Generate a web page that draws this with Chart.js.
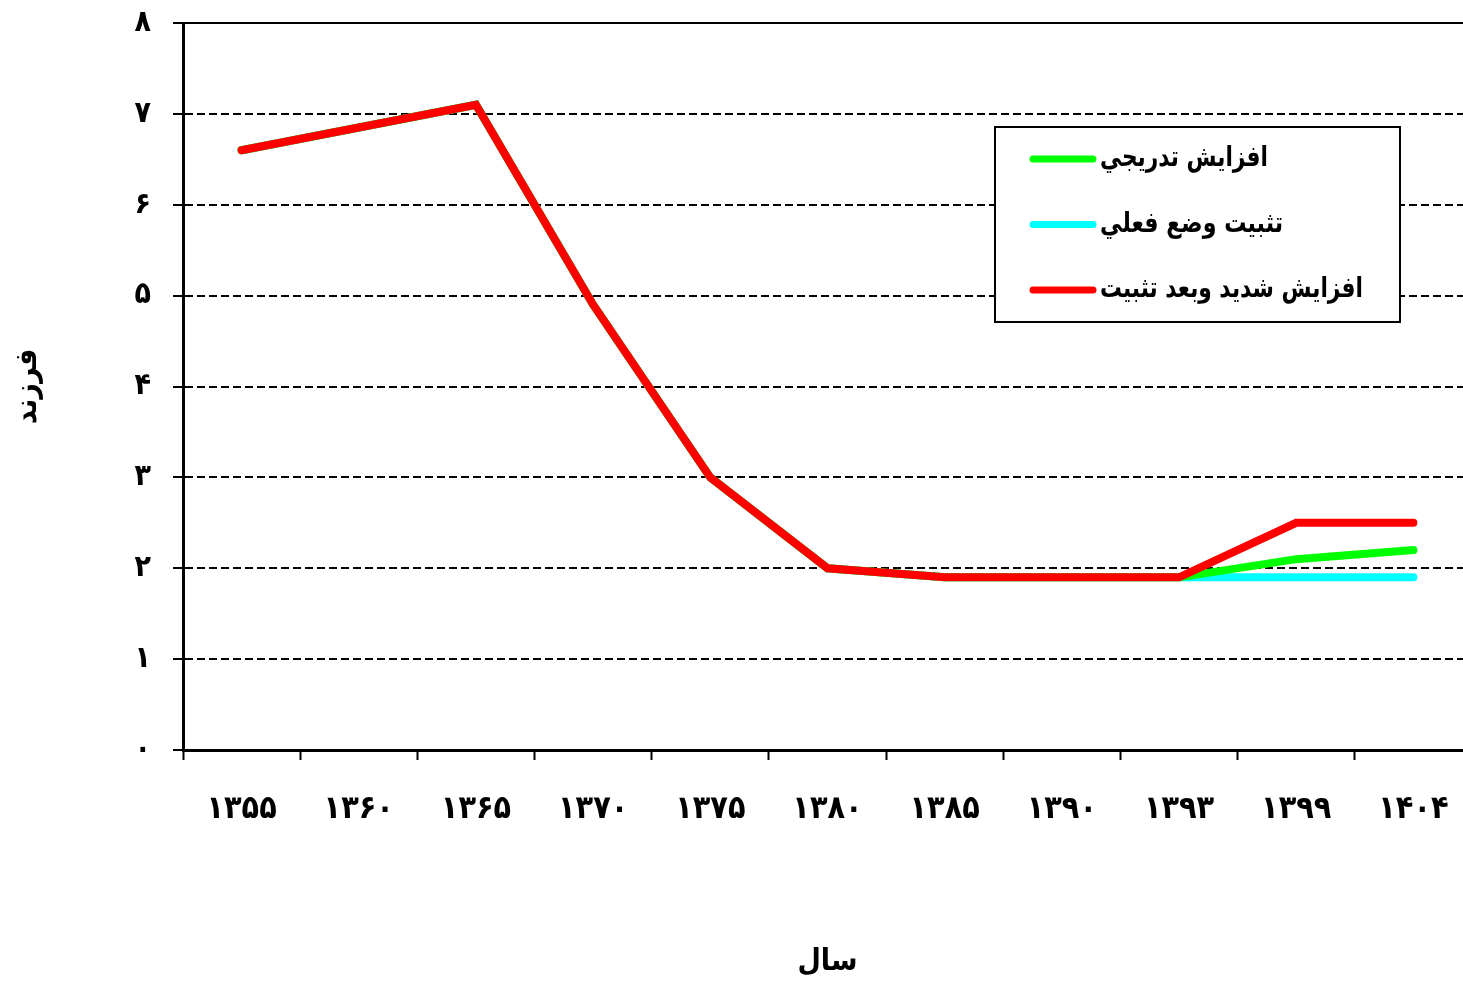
<!DOCTYPE html>
<html>
<head>
<meta charset="utf-8">
<script src="https://cdn.jsdelivr.net/npm/chart.js@4/dist/chart.umd.min.js"></script>
<style>
    body { margin: 0; overflow: hidden; background: #fff; }
    #wrap { width: 1472px; height: 982px; }
</style>
</head>
<body>
<div id="wrap"><canvas id="myChart" width="1472" height="982"></canvas></div>
<script>
// years (Persian calendar) on the x axis
const years = ['۱۳۵۵', '۱۳۶۰', '۱۳۶۵', '۱۳۷۰', '۱۳۷۵', '۱۳۸۰', '۱۳۸۵', '۱۳۹۰', '۱۳۹۳', '۱۳۹۹', '۱۴۰۴']

// scenario values (children per woman)
const gradualRise = [6.6, 6.85, 7.1, 4.9, 3.0, 2.0, 1.9, 1.9, 1.9, 2.1, 2.2]
const keepCurrent = [6.6, 6.85, 7.1, 4.9, 3.0, 2.0, 1.9, 1.9, 1.9, 1.9, 1.9]
const sharpRise = [6.6, 6.85, 7.1, 4.9, 3.0, 2.0, 1.9, 1.9, 1.9, 2.5, 2.5]

const seriesNames = ['افزايش تدريجي', 'تثبيت وضع فعلي', 'افزايش شديد وبعد تثبيت']
const seriesColors = ['#00ff00', '#00ffff', '#ff0000']

const yTitle = 'فرزند'
const xTitle = 'سال'

const FONT = "'DejaVu Sans Condensed', 'DejaVu Sans', sans-serif"
const faDigits = '۰۱۲۳۴۵۶۷۸۹'
const toFa = (n) => String(n).replace(/\d/g, d => faDigits[d])

// legend box drawn inside the plot, like the original
const boxLegend = {
    id: 'boxLegend',
    afterDraw(chart) {
        const ctx = chart.ctx
        const x0 = 995, y0 = 127, w = 405, h = 195
        ctx.save()
        ctx.fillStyle = '#fff'
        ctx.fillRect(x0, y0, w, h)
        ctx.lineWidth = 2
        ctx.strokeStyle = '#000'
        ctx.strokeRect(x0, y0, w, h)
        const sets = chart.data.datasets
        const textW = [168, 183, 263]
        for (let i = 0; i < sets.length; i++) {
            const y = y0 + 32 + i * 65.5
            ctx.beginPath()
            ctx.lineCap = 'round'
            ctx.lineWidth = 7
            ctx.strokeStyle = sets[i].borderColor
            ctx.moveTo(x0 + 38, y)
            ctx.lineTo(x0 + 98, y)
            ctx.stroke()
            ctx.fillStyle = '#000'
            ctx.font = `bold 28px ${FONT}`
            ctx.textAlign = 'left'
            ctx.textBaseline = 'middle'
            ctx.fillText(sets[i].label, x0 + 105, y, textW[i])
        }
        ctx.restore()
    }
}

const ctx = document.getElementById('myChart').getContext('2d')

const myChart = new Chart(ctx, {
    type: 'line',
    data: {
        labels: years,
        datasets: [
            { label: seriesNames[0], data: gradualRise, borderColor: seriesColors[0], order: 1 },
            { label: seriesNames[1], data: keepCurrent, borderColor: seriesColors[1], order: 2 },
            { label: seriesNames[2], data: sharpRise, borderColor: seriesColors[2], order: 0 },
        ]
    },
    options: {
        responsive: false,
        animation: false,
        layout: { padding: { top: 23, right: 0, left: 0, bottom: 0 } },
        elements: {
            line: { borderWidth: 8, tension: 0, borderCapStyle: 'round', borderJoinStyle: 'miter', fill: false },
            point: { radius: 0 }
        },
        plugins: {
            legend: { display: false },
            tooltip: { enabled: false }
        },
        scales: {
            x: {
                offset: true,
                afterFit: (scale) => {
                    scale.height = 232
                    scale.paddingLeft = 0
                    scale.paddingRight = 0
                },
                grid: {
                    offset: true,
                    drawOnChartArea: false,
                    drawTicks: true,
                    tickLength: 10,
                    tickColor: '#000',
                    tickWidth: 2
                },
                border: { display: true, color: '#000', width: 3 },
                ticks: {
                    color: '#000',
                    padding: 30,
                    maxRotation: 0,
                    autoSkip: false,
                    font: { family: FONT, size: 32, weight: 'bold' }
                },
                title: {
                    display: true,
                    text: xTitle,
                    color: '#000',
                    padding: { top: 0, bottom: 2 },
                    font: { family: FONT, size: 30, weight: 'bold' }
                }
            },
            y: {
                min: 0,
                max: 8,
                afterFit: (scale) => {
                    scale.width = 183
                    scale.paddingTop = 0
                    scale.paddingBottom = 0
                },
                grid: {
                    color: '#000',
                    lineWidth: 2,
                    drawTicks: true,
                    tickLength: 10,
                    tickColor: '#000',
                    tickWidth: 2,
                    tickBorderDash: []
                },
                border: {
                    display: true,
                    color: '#000',
                    width: 3,
                    dash: (c) => (c.tick && c.tick.value === 8) ? [] : [8, 4]
                },
                ticks: {
                    stepSize: 1,
                    color: '#000',
                    padding: 22,
                    font: { family: FONT, size: 30, weight: 'bold' },
                    callback: (value) => toFa(value)
                },
                title: {
                    display: true,
                    text: yTitle,
                    color: '#000',
                    padding: { top: 10, bottom: 0 },
                    font: { family: FONT, size: 30, weight: 'bold' }
                }
            }
        }
    },
    plugins: [boxLegend]
})
</script>
</body>
</html>
